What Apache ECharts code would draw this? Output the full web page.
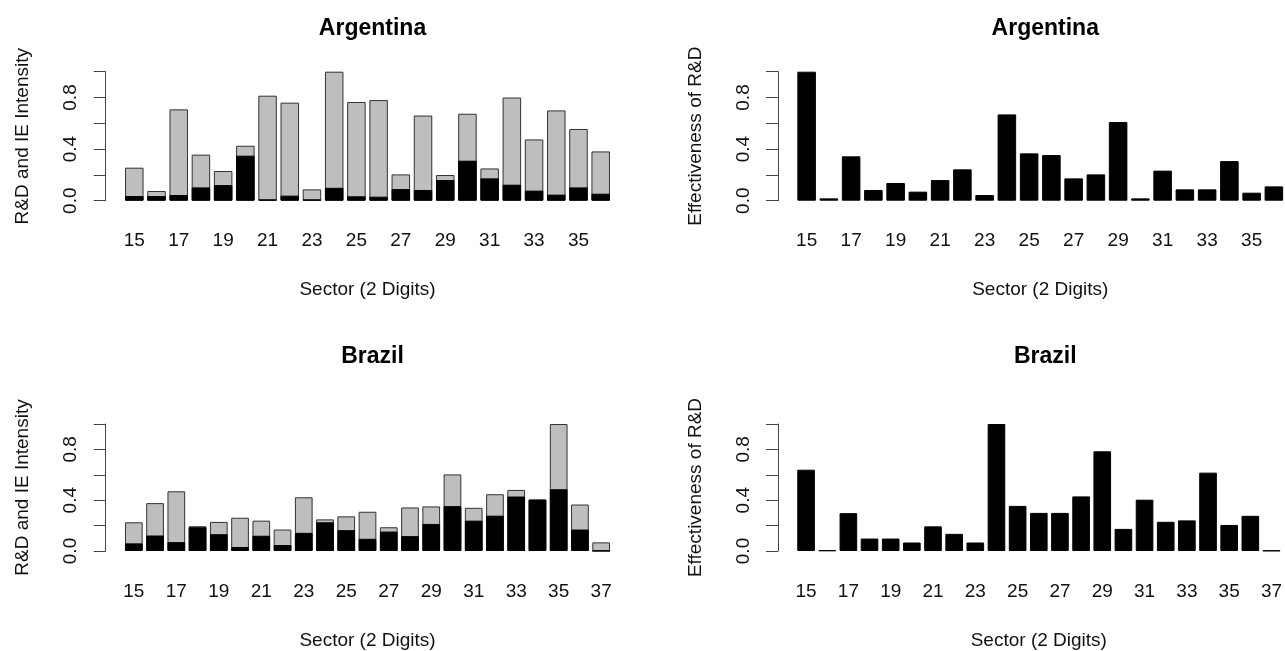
<!DOCTYPE html>
<html>
<head>
<meta charset="utf-8">
<script src="https://cdn.jsdelivr.net/npm/echarts@6/dist/echarts.min.js"></script>
<style>
html,body{margin:0;padding:0;background:#fff;}
#c{width:1285px;height:651px;}
</style>
</head>
<body>
<div id="c"></div>
<script>
// ---- Data ----
const sectorsArg = ['15','16','17','18','19','20','21','22','23','24','25','26','27','28','29','30','31','32','33','34','35','36'];
const sectorsBra = ['15','16','17','18','19','20','21','22','23','24','25','26','27','28','29','30','31','32','33','34','35','36','37'];

// Argentina: total height (R&D + IE) and R&D part (black)
const argTotal = [0.256,0.075,0.708,0.357,0.23,0.426,0.814,0.76,0.088,1.0,0.765,0.78,0.204,0.66,0.199,0.674,0.25,0.80,0.475,0.70,0.556,0.382];
const argRD    = [0.036,0.036,0.044,0.103,0.121,0.349,0.01,0.039,0.01,0.10,0.034,0.031,0.09,0.083,0.16,0.31,0.173,0.124,0.078,0.047,0.103,0.054];
const argEff   = [1.0,0.018,0.344,0.083,0.137,0.07,0.16,0.243,0.044,0.669,0.367,0.354,0.173,0.204,0.61,0.018,0.233,0.088,0.088,0.307,0.062,0.111];

// Brazil
const braTotal = [0.226,0.377,0.47,0.195,0.229,0.262,0.239,0.169,0.423,0.249,0.273,0.309,0.187,0.343,0.351,0.603,0.34,0.447,0.481,0.405,1.0,0.366,0.068];
const braRD    = [0.06,0.122,0.07,0.187,0.132,0.031,0.12,0.047,0.143,0.226,0.164,0.096,0.153,0.117,0.213,0.353,0.239,0.278,0.429,0.405,0.486,0.169,0.0];
const braEff   = [0.64,0.005,0.298,0.098,0.098,0.067,0.194,0.135,0.067,1.0,0.355,0.30,0.30,0.43,0.785,0.174,0.404,0.23,0.241,0.617,0.205,0.277,0.003];

const yTickLabels = ['0.0','','0.4','','0.8',''];
const titles = ['Argentina','Argentina','Brazil','Brazil'];
const yNames = ['R&D and IE Intensity','Effectiveness of R&D','R&D and IE Intensity','Effectiveness of R&D'];
const xName = 'Sector (2 Digits)';

// ---- Layout ----
const FONT = 'Liberation Sans, Arial, Helvetica, sans-serif';
const FS = 19;
const grids = [
  {left:123.2, top:71.7, width:488.6, height:129},
  {left:795.5, top:71.7, width:489.5, height:129},
  {left:123.2, top:424, width:488.6, height:128.5},
  {left:795.5, top:424, width:489.5, height:128.5}
];
const titleTops = [12, 12, 340, 340];
const cats = [sectorsArg, sectorsArg, sectorsBra, sectorsBra];

const xAxes = grids.map((g,i)=>({
  type:'category', gridIndex:i, data:cats[i],
  axisLine:{show:false}, axisTick:{show:false},
  axisLabel:{interval:1, margin:31, fontSize:FS, color:'#111', fontFamily:FONT},
  name:xName, nameLocation:'middle', nameGap:80,
  nameTextStyle:{fontSize:FS, color:'#111', fontFamily:FONT}
}));
const yAxes = grids.map((g,i)=>({
  type:'value', gridIndex:i, min:0, max:1, interval:0.2,
  offset:17.5,
  splitLine:{show:false},
  axisLine:{show:true, lineStyle:{color:'#444', width:1}},
  axisTick:{show:true, length:12, lineStyle:{color:'#444', width:1}},
  axisLabel:{rotate:90, margin:25, fontSize:FS, color:'#111', fontFamily:FONT,
    formatter:(v,idx)=>yTickLabels[Math.round(v/0.2)] || ''},
  name:yNames[i], nameLocation:'middle', nameGap:73, nameRotate:90,
  nameTextStyle:{fontSize:FS, color:'#111', fontFamily:FONT}
}));

const titleComps = grids.map((g,i)=>({
  text:titles[i], left:g.left + g.width/2, top:titleTops[i], textAlign:'center',
  textStyle:{fontSize:23, fontWeight:'bold', color:'#000', fontFamily:FONT}
}));

const barBase = {type:'bar', barCategoryGap:'16.67%', barGap:'-100%', animation:false};
const greyStyle = {color:'#BEBEBE', borderColor:'#333', borderWidth:1};
const blackStyle = {color:'#000', borderColor:'#000', borderWidth:1};

const series = [
  Object.assign({}, barBase, {xAxisIndex:0, yAxisIndex:0, data:argTotal, itemStyle:greyStyle, z:2}),
  Object.assign({}, barBase, {xAxisIndex:0, yAxisIndex:0, data:argRD, itemStyle:blackStyle, z:3}),
  Object.assign({}, barBase, {xAxisIndex:1, yAxisIndex:1, data:argEff, itemStyle:blackStyle, z:3}),
  Object.assign({}, barBase, {xAxisIndex:2, yAxisIndex:2, data:braTotal, itemStyle:greyStyle, z:2}),
  Object.assign({}, barBase, {xAxisIndex:2, yAxisIndex:2, data:braRD, itemStyle:blackStyle, z:3}),
  Object.assign({}, barBase, {xAxisIndex:3, yAxisIndex:3, data:braEff, itemStyle:blackStyle, z:3})
];

const chart = echarts.init(document.getElementById('c'), null, {renderer:'canvas'});
chart.setOption({
  backgroundColor:'#fff',
  animation:false,
  title:titleComps,
  grid:grids,
  xAxis:xAxes,
  yAxis:yAxes,
  series:series
});
</script>
</body>
</html>
